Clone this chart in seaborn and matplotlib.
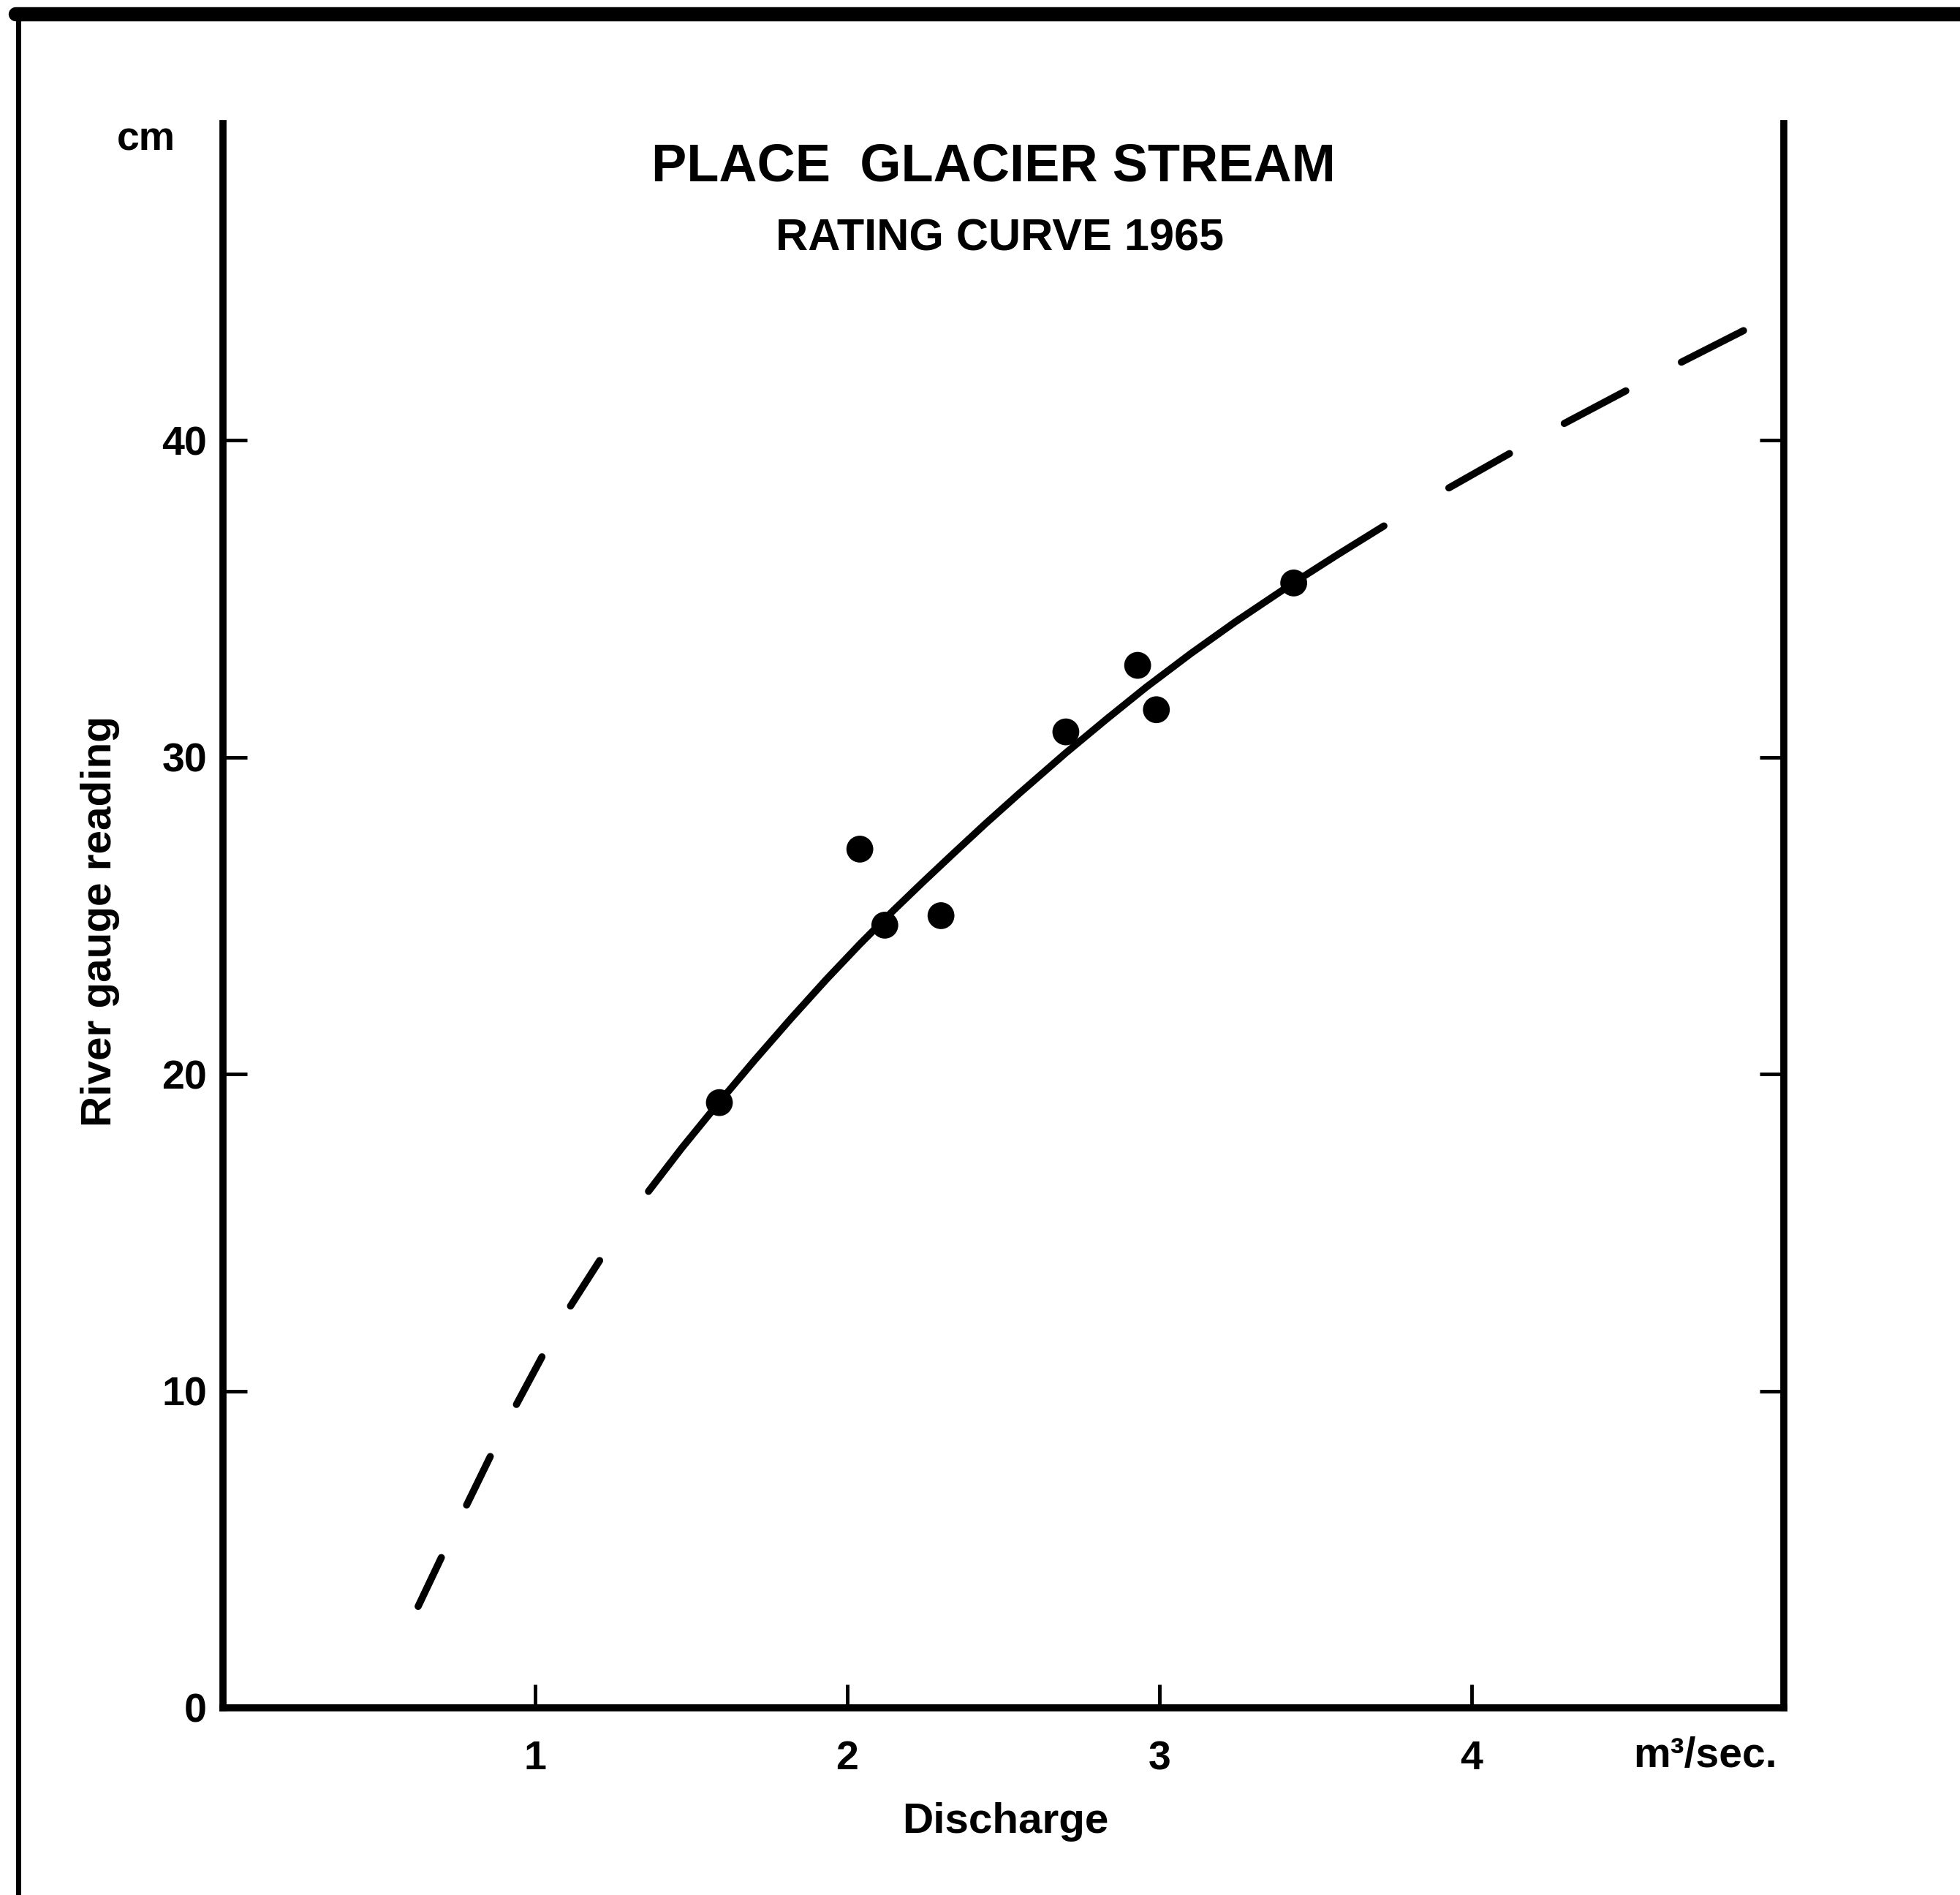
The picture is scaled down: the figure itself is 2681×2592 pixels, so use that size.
import matplotlib
matplotlib.use("Agg")
import matplotlib.pyplot as plt
import seaborn as sns
import pandas as pd
from matplotlib.lines import Line2D


sns.set_theme(style="white")
plt.rcParams['font.family'] = ['Liberation Sans', 'DejaVu Sans']
plt.rcParams['font.weight'] = 'bold'
plt.rcParams['text.color'] = 'black'
plt.rcParams['xtick.color'] = 'black'
plt.rcParams['ytick.color'] = 'black'


# measured gauge readings
discharge = [1.59, 2.04, 2.12, 2.30, 2.70, 2.93, 2.99, 3.43]
gauge = [19.1, 27.1, 24.7, 25.0, 30.8, 32.9, 31.5, 35.5]

# rating curve (dashed below, solid middle, dashed above)
curve_low_x = [0.625, 0.707, 0.773, 0.862, 0.925, 1.023, 1.108, 1.225]
curve_low_y = [3.2, 4.9, 6.25, 8.05, 9.3, 11.1, 12.6, 14.4]

curve_mid_x = [1.363, 1.47, 1.59, 1.703, 1.82, 1.932, 2.04, 2.145, 2.24,
               2.335, 2.44, 2.55, 2.698, 2.83, 2.956, 3.1, 3.244, 3.424,
               3.57, 3.719]
curve_mid_y = [16.3, 17.67, 19.12, 20.44, 21.76, 22.98, 24.1, 25.14, 26.04,
               26.92, 27.88, 28.85, 30.12, 31.2, 32.2, 33.27, 34.28, 35.47,
               36.39, 37.3]

curve_high_x = [3.927, 4.124, 4.29, 4.52, 4.658, 4.878]
curve_high_y = [38.5, 39.6, 40.5, 41.7, 42.4, 43.5]

x_ticks = [1, 2, 3, 4]
y_ticks = [0, 10, 20, 30, 40]

points = pd.DataFrame({'Discharge': discharge, 'Gauge': gauge})

fig = plt.figure(figsize=(26.81, 25.92), dpi=100)
ax = fig.add_axes([0.1138, 0.0988, 0.7963, 0.836])

lw = 7
sns.lineplot(x=curve_mid_x, y=curve_mid_y, ax=ax, color='black', lw=lw,
             sort=False, estimator=None, solid_capstyle='round',
             solid_joinstyle='round')
sns.lineplot(x=curve_low_x, y=curve_low_y, ax=ax, color='black', lw=lw,
             sort=False, estimator=None, linestyle=(0, (7.6, 8.2)),
             dash_capstyle='round')
sns.lineplot(x=curve_high_x, y=curve_high_y, ax=ax, color='black', lw=lw,
             sort=False, estimator=None, linestyle=(0, (9.8, 8.8)),
             dash_capstyle='round')
sns.scatterplot(data=points, x='Discharge', y='Gauge', ax=ax, color='black',
                s=700, edgecolor='none', zorder=5)

ax.set_xlim(0, 5)
ax.set_ylim(0, 50)
ax.set_xticks(x_ticks)
ax.set_xticklabels([str(t) for t in x_ticks])
ax.set_yticks(y_ticks)
ax.set_yticklabels([str(t) for t in y_ticks])
ax.set_xlabel('')
ax.set_ylabel('')

for side in ['left', 'right', 'bottom']:
    ax.spines[side].set_visible(True)
    ax.spines[side].set_linewidth(7)
    ax.spines[side].set_color('black')
ax.spines['top'].set_visible(False)

ax.tick_params(axis='x', direction='in', length=23, width=3.5,
               labelsize=40, pad=32, bottom=True, labelcolor='black')
ax.tick_params(axis='y', direction='in', length=24, width=3.5,
               labelsize=40, pad=16, left=True, right=True, labelcolor='black')
for lab in ax.get_xticklabels() + ax.get_yticklabels():
    lab.set_fontweight('bold')

# titles and labels
fig.text(0.507, 0.912, 'PLACE  GLACIER STREAM', ha='center', va='center',
         fontsize=52, fontweight='bold')
fig.text(0.510, 0.874, 'RATING CURVE 1965', ha='center', va='center',
         fontsize=44, fontweight='bold')
fig.text(0.0746, 0.926, 'cm', ha='center', va='center', fontsize=40,
         fontweight='bold')
fig.text(0.051, 0.514, 'River gauge reading', rotation=90, ha='center',
         va='center', fontsize=42, fontweight='bold')
fig.text(0.513, 0.0328, 'Discharge', ha='center', va='baseline', fontsize=42,
         fontweight='bold')
fig.text(0.8700, 0.0733, 'm³/sec.', ha='center', va='center', fontsize=41,
         fontweight='bold')

# outer frame of the scanned page
fig.add_artist(Line2D([0.0080, 1.0], [0.9925, 0.9925], color='black', lw=14,
                      transform=fig.transFigure))
fig.add_artist(Line2D([0.0095, 0.0095], [0.0, 0.9925], color='black', lw=5,
                      transform=fig.transFigure))

fig.savefig('out.png', dpi=100, facecolor='white')
